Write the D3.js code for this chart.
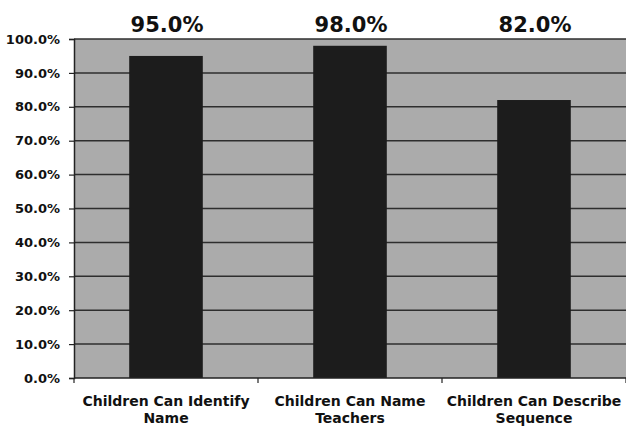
<!DOCTYPE html>
<html><head><meta charset="utf-8">
<script src="https://cdn.jsdelivr.net/npm/d3@7"></script>
<style>body{margin:0;background:#fff}svg{display:block}</style>
</head><body>
<svg id="c" width="626" height="426"></svg>
<script>
const categories = [["Children Can Identify","Name"],["Children Can Name","Teachers"],["Children Can Describe","Sequence"]];
const values = [95.0, 98.0, 82.0];
const yTicks = [0,10,20,30,40,50,60,70,80,90,100];

const svg = d3.select("#c");
const m = {left:74, right:0, top:39, bottom:48};
const x = d3.scaleBand().domain(d3.range(values.length)).range([m.left, m.left+552]).paddingInner(0.6).paddingOuter(0.3);
const y = d3.scaleLinear().domain([0,100]).range([378, 39]);

svg.append("rect").attr("x", m.left).attr("y", y(100)).attr("width", 552).attr("height", y(0)-y(100)).attr("fill", "#ababab");

svg.append("g").selectAll("line").data(yTicks.filter(d=>d>0)).join("line")
  .attr("x1", m.left).attr("x2", m.left+552).attr("y1", d=>y(d)).attr("y2", d=>y(d))
  .attr("stroke", "#2e2e2e").attr("stroke-width", 1.5);

svg.append("g").selectAll("rect").data(values).join("rect")
  .attr("x", (d,i)=>x(i)).attr("width", x.bandwidth())
  .attr("y", d=>y(d)).attr("height", d=>y(0)-y(d))
  .attr("fill", "#1c1c1c");

const ya = d3.axisLeft(y).tickValues(yTicks).tickSize(5).tickPadding(9).tickFormat(d=>d.toFixed(1)+"%");
const gy = svg.append("g").attr("transform", `translate(${m.left},0)`).call(ya);
gy.select(".domain").attr("stroke", "#222").attr("stroke-width", 1.5);
gy.selectAll(".tick line").attr("stroke", "#222").attr("stroke-width", 1.2);
gy.selectAll("text").attr("font-family", "DejaVu Sans").attr("font-weight", "bold").attr("font-size", 13).attr("fill", "#111");

svg.append("line").attr("x1", m.left).attr("x2", m.left+552).attr("y1", y(0)).attr("y2", y(0)).attr("stroke", "#222").attr("stroke-width", 1.5);
const step = 552/values.length;
svg.append("g").selectAll("line").data(d3.range(values.length+1)).join("line")
  .attr("x1", i=>m.left+i*step).attr("x2", i=>m.left+i*step).attr("y1", y(0)).attr("y2", y(0)+5)
  .attr("stroke", "#222").attr("stroke-width", 1.2);

const cl = svg.append("g").selectAll("text").data(categories).join("text")
  .attr("x", (d,i)=>x(i)+x.bandwidth()/2).attr("y", 406)
  .attr("text-anchor", "middle").attr("font-family", "DejaVu Sans").attr("font-weight", "bold").attr("font-size", 14).attr("fill", "#111");
cl.each(function(d){
  const t = d3.select(this);
  d.forEach((s,k)=>t.append("tspan").attr("x", t.attr("x")).attr("dy", k===0?0:17).text(s));
});

svg.append("g").selectAll("text").data(values).join("text")
  .attr("x", (d,i)=>x(i)+x.bandwidth()/2+1).attr("y", 32)
  .attr("text-anchor", "middle").attr("font-family", "DejaVu Sans").attr("font-weight", "bold").attr("font-size", 21).attr("fill", "#111")
  .text(d=>d.toFixed(1)+"%");
</script>
</body></html>
